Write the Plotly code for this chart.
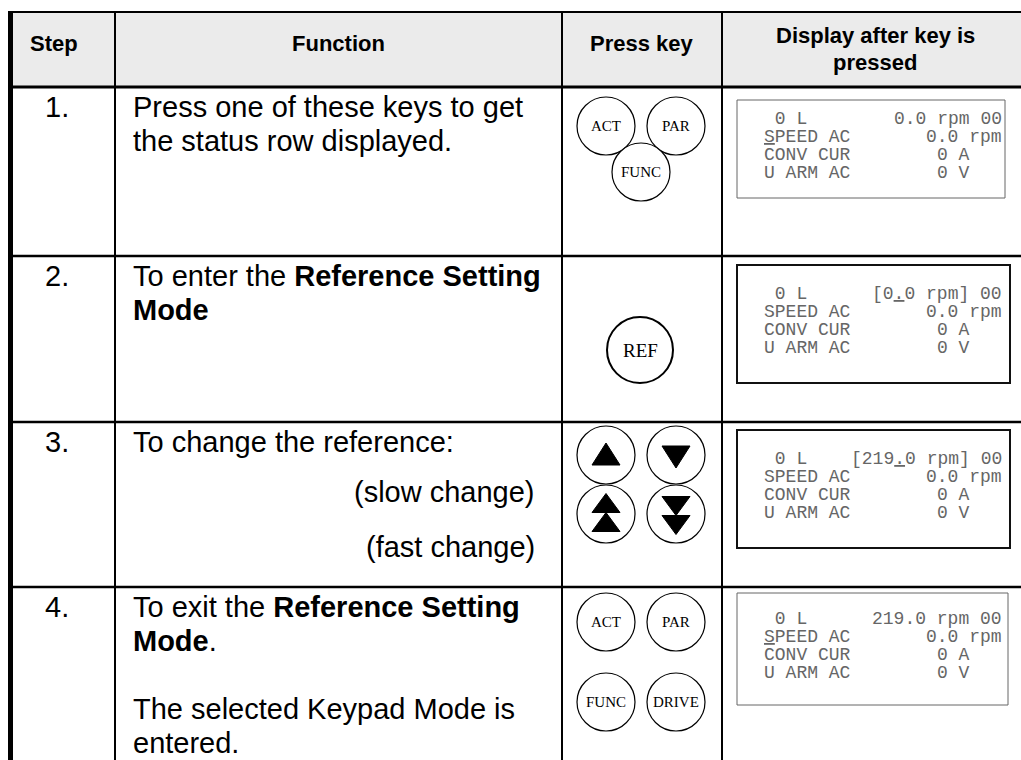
import plotly.graph_objects as go

# ---------------- data ----------------
headers = ["Step", "Function", "Press key", "Display after key is<br>pressed"]
steps = ["1.", "2.", "3.", "4."]
function_lines = [
    ["Press one of these keys to get", "the status row displayed."],
    ["To enter the <b>Reference Setting</b>", "<b>Mode</b>"],
    ["To change the reference:"],
    ["To exit the <b>Reference Setting</b>", "<b>Mode</b>.", "", "The selected Keypad Mode is", "entered."],
]
row3_notes = ["(slow change)", "(fast change)"]
key_labels = [
    ["ACT", "PAR", "FUNC"],
    ["REF"],
    ["up", "down", "fast up", "fast down"],
    ["ACT", "PAR", "FUNC", "DRIVE"],
]
lcd_left = [
    [" 0 L", "<u>S</u>PEED AC", "CONV CUR", "U ARM AC"],
    [" 0 L", "SPEED AC", "CONV CUR", "U ARM AC"],
    [" 0 L", "SPEED AC", "CONV CUR", "U ARM AC"],
    [" 0 L", "<u>S</u>PEED AC", "CONV CUR", "U ARM AC"],
]
lcd_right = [
    ["0.0 rpm 00", "0.0 rpm", "0 A   ", "0 V   "],
    ["[0<u>.</u>0 rpm] 00", "0.0 rpm", "0 A   ", "0 V   "],
    ["[219<u>.</u>0 rpm] 00", "0.0 rpm", "0 A   ", "0 V   "],
    ["219.0 rpm 00", "0.0 rpm", "0 A   ", "0 V   "],
]

# ---------------- layout constants ----------------
W, H = 1021, 760
col_x = [13, 115, 562, 722, 1021]
row_y = [12, 87, 256, 422, 587, 760]
LINE_PITCH = 34
BODY = 29
SANS = "Liberation Sans, Arial"
SERIF = "Liberation Serif, Times New Roman"
MONO = "Liberation Mono, DejaVu Sans Mono, monospace"

shapes = []
ann = []


def line(x0, y0, x1, y1, w=2, c="black"):
    shapes.append(dict(type="line", x0=x0, y0=y0, x1=x1, y1=y1,
                       line=dict(color=c, width=w), layer="above"))


def text(x, y, s, size, xa="left", ya="middle", family=SANS, color="black", bold=False):
    if bold:
        s = "<b>" + s + "</b>"
    ann.append(dict(x=x, y=y, text=s, showarrow=False, xanchor=xa, yanchor=ya,
                    font=dict(size=size, family=family, color=color), align="left"))


# header background
shapes.append(dict(type="rect", x0=col_x[0], y0=row_y[0], x1=W, y1=row_y[1],
                   fillcolor="#ebebeb", line=dict(width=0), layer="below"))

# grid lines
line(8, row_y[0], W, row_y[0], 2)
line(10.5, row_y[0], 10.5, H, 5)
for x in col_x[1:4]:
    line(x, row_y[0], x, H, 2)
line(col_x[0], row_y[1], W, row_y[1], 3)
for y in row_y[2:5]:
    line(col_x[0], y, W, y, 2.5)

# headers
hc = [54, 338, 642, 875]
for i, h in enumerate(headers):
    if "<br>" in h:
        a, b = h.split("<br>")
        text(hc[i], 35, a, 22, xa="center", bold=True)
        text(hc[i], 62, b, 22, xa="center", bold=True)
    else:
        text(hc[i], 43, h, 22, xa="center", bold=True)

# step numbers and function text
for r in range(4):
    y0 = row_y[r + 1] + 20
    text(57, y0, steps[r], BODY, xa="center")
    for k, s in enumerate(function_lines[r]):
        if s:
            text(131, y0 + k * LINE_PITCH, s, BODY)

text(537, 492, row3_notes[0], BODY, xa="right")
text(537, 547, row3_notes[1], BODY, xa="right")


# keys
def circle(cx, cy, r, w=1.2):
    shapes.append(dict(type="circle", x0=cx - r, x1=cx + r, y0=cy - r, y1=cy + r,
                       line=dict(color="black", width=w), fillcolor="white", layer="above"))


def tri(cx, cy, up, w=28, h=22):
    if up:
        p = f"M {cx - w/2} {cy + h/2} L {cx + w/2} {cy + h/2} L {cx} {cy - h/2} Z"
    else:
        p = f"M {cx - w/2} {cy - h/2} L {cx + w/2} {cy - h/2} L {cx} {cy + h/2} Z"
    shapes.append(dict(type="path", path=p, fillcolor="black",
                       line=dict(color="black", width=1), layer="above"))


R = 29
kx_l, kx_r, kx_c = 606, 676, 641
# row 1 keys
pos1 = [(kx_l, 126), (kx_r, 126), (kx_c, 172)]
for (cx, cy), lab in zip(pos1, key_labels[0]):
    circle(cx, cy, R)
    text(cx, cy, lab, 15, xa="center", family=SERIF)
# row 2 key
circle(640, 350, 33, 2)
text(640, 350, key_labels[1][0], 19, xa="center", family=SERIF)
# row 3 keys (arrows)
circle(kx_l, 455, R); tri(kx_l, 454, True)
circle(kx_r, 455, R); tri(kx_r, 457, False)
circle(kx_l, 514, R); tri(kx_l, 503, True, 28, 19); tri(kx_l, 522, True, 28, 19)
circle(kx_r, 514, R); tri(kx_r, 506, False, 28, 19); tri(kx_r, 525, False, 28, 19)
# row 4 keys
pos4 = [(kx_l, 622), (kx_r, 622), (kx_l, 702), (kx_r, 702)]
for (cx, cy), lab in zip(pos4, key_labels[3]):
    circle(cx, cy, R)
    text(cx, cy, lab, 15, xa="center", family=SERIF)

# LCD displays
boxes = [(737, 100, 1005, 198, 1, "#666666"),
         (737, 265, 1010, 383, 2, "#111111"),
         (737, 430, 1010, 548, 2, "#111111"),
         (737, 593, 1008, 705, 1, "#666666")]
PITCH_LCD = 18
for r, (x0, y0, x1, y1, w, c) in enumerate(boxes):
    shapes.append(dict(type="rect", x0=x0, y0=y0, x1=x1, y1=y1,
                       line=dict(color=c, width=w), layer="above"))
    cy = (y0 + y1) / 2 - 3
    for k in range(4):
        yy = cy + (k - 1.5) * PITCH_LCD
        text(762, yy, lcd_left[r][k].replace(" ", "&nbsp;"), 18, family=MONO, color="#666666")
        text(1004, yy, lcd_right[r][k].replace(" ", "&nbsp;"), 18, xa="right", family=MONO, color="#666666")

fig = go.Figure()
fig.update_layout(
    width=W, height=H, margin=dict(l=0, r=0, t=0, b=0),
    paper_bgcolor="white", plot_bgcolor="white",
    xaxis=dict(range=[0, W], visible=False, fixedrange=True),
    yaxis=dict(range=[H, 0], visible=False, fixedrange=True),
    shapes=shapes, annotations=ann, showlegend=False,
)
fig.write_html("out.html", config={"displayModeBar": False},
               post_script="document.body.style.margin='0';document.body.style.padding='0';")
